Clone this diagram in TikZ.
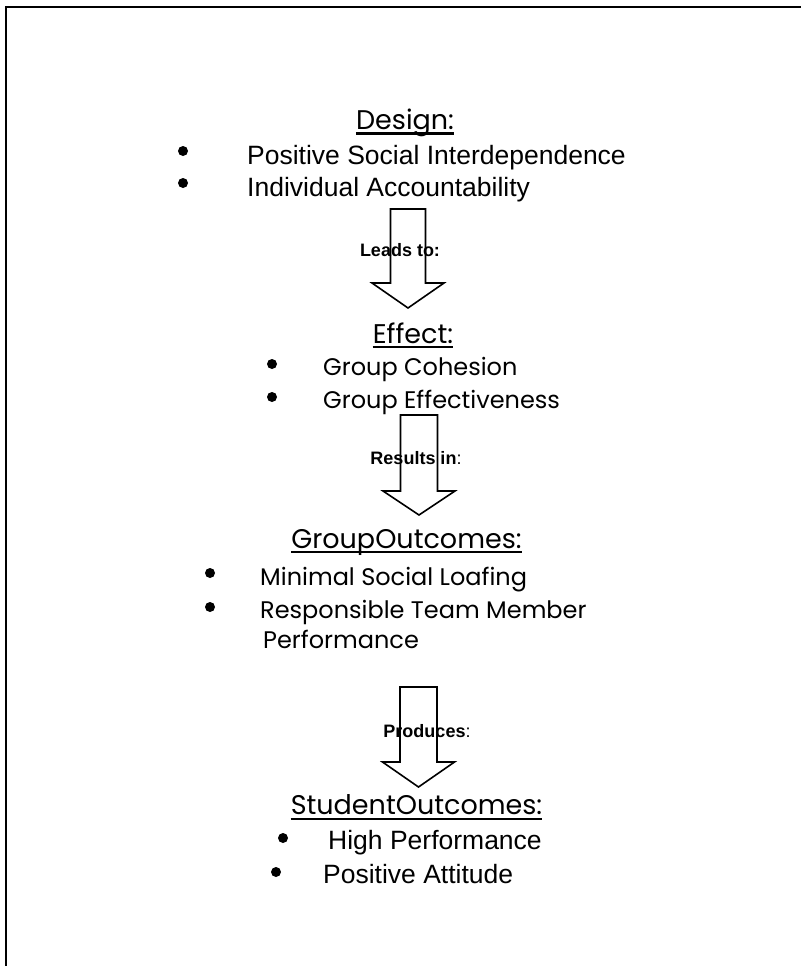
\documentclass[tikz,border=0pt]{standalone}
\usepackage{fontspec}
\setmainfont{Liberation Sans}
\newfontfamily\geofont{Poppins}
\begin{document}
\begin{tikzpicture}[x=1pt,y=-1pt,
    title/.style={font=\geofont\fontsize{27}{30}\selectfont, inner sep=0pt},
    item/.style={anchor=base west, inner sep=0pt, font=\fontsize{26.5}{30}\selectfont},
    geoitem/.style={anchor=base west, inner sep=0pt, font=\geofont\fontsize{24}{28}\selectfont},
    dot/.style={circle, fill=black, inner sep=0pt, minimum size=10pt},
    tag/.style={font=\bfseries\fontsize{18}{20}\selectfont, inner sep=0pt},
    blockarrow/.style={draw=black, line width=1.6pt},
    uline/.style={line width=2.6pt}]
  \useasboundingbox (0,0) rectangle (801,966);
  \draw [line width=2.2pt] (6,966) -- (6,7) -- (801,7);
  % block arrows between the sections
  \foreach \c/\top/\neck/\tip/\hw in {408/209/283/308/17.5, 419/415/491/515/18.5, 418.5/687/762/787/18.5}
    \draw [blockarrow] (\c-\hw,\top) -- (\c+\hw,\top) -- (\c+\hw,\neck) -- (\c+36,\neck) %
      -- (\c,\tip) -- (\c-36,\neck) -- (\c-\hw,\neck) -- cycle;
  \node [tag] (lead) at (400,250) {Leads to:};
  \node [tag] (result) at (416,458) {Results in\textmd{:}};
  \node [tag] (produce) at (427,731) {Produces\textmd{:}};
  % design
  \node [title] (design) at (405,123) {Design:};
  \draw [uline] ([yshift=-4pt]design.base west) -- ([yshift=-4pt]design.base east);
  \node [dot] (b1) at (183,151) {};
  \node [item] (psi) at (247,164) {Positive Social Interdependence};
  \node [dot] (b2) at (183,183) {};
  \node [item] (ia) at (247,196) {Individual Accountability};
  % effect
  \node [title] (effect) at (413,333) {Effect:};
  \draw [uline] ([yshift=-4pt]effect.base west) -- ([yshift=-4pt]effect.base east);
  \node [dot] (b3) at (272,364) {};
  \node [geoitem] (gc) at (323,375) {Group Cohesion};
  \node [dot] (b4) at (272,397) {};
  \node [geoitem] (ge) at (323,408) {Group Effectiveness};
  % group outcomes
  \node [title] (group) at (406.5,542) {GroupOutcomes:};
  \draw [uline] ([yshift=-4pt]group.base west) -- ([yshift=-4pt]group.base east);
  \node [dot] (b5) at (210,573) {};
  \node [geoitem] (msl) at (260,585) {Minimal Social Loafing};
  \node [dot] (b6) at (210,607) {};
  \node [geoitem] (rtm) at (260,618) {Responsible Team Member};
  \node [geoitem] (perf) at (263,648) {Performance};
  % student outcomes
  \node [title] (student) at (416.5,805) {StudentOutcomes:};
  \draw [uline] ([yshift=-4pt]student.base west) -- ([yshift=-4pt]student.base east);
  \node [dot] (b7) at (283,838) {};
  \node [item] (hp) at (328,849.5) {High Performance};
  \node [dot] (b8) at (276,872) {};
  \node [item] (pa) at (323,883.5) {Positive Attitude};
\end{tikzpicture}
\end{document}
